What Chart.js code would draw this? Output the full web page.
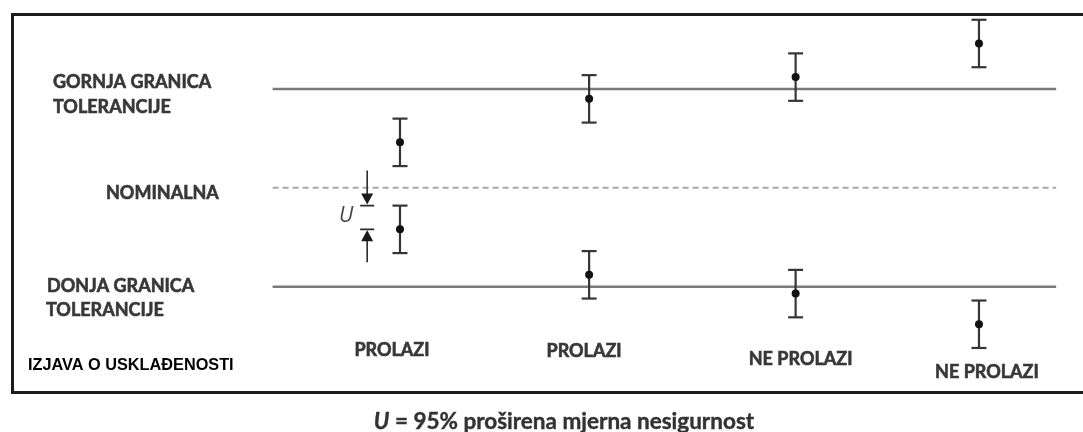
<!DOCTYPE html>
<html>
<head>
<meta charset="utf-8">
<script src="https://cdn.jsdelivr.net/npm/chart.js@4.4.1/dist/chart.umd.min.js"></script>
<style>
  html, body { margin: 0; padding: 0; background: #fff; overflow: hidden; }
  #wrap { position: relative; width: 1083px; height: 432px; }
  #frame { position: absolute; left: 11px; top: 13px; width: 1100px; height: 381px;
           box-sizing: border-box; border: 3px solid #1c1c1c; }
  #c { position: absolute; left: 0; top: 0; }
</style>
</head>
<body>
<div id="wrap">
  <div id="frame"></div>
  <canvas id="c" width="1083" height="432"></canvas>
</div>
<script>
// ---- data ----
const verdicts = ['PROLAZI', 'PROLAZI', 'NE PROLAZI', 'NE PROLAZI'];
const casePositions = [1, 1.98, 3.05, 4.0];
const upperResults = [4.6, 9.0, 11.2, 14.6];
const lowerResults = [-4.2, -8.8, -10.7, -13.8];
const expandedU = 2.4;
const upperLimit = 10;
const nominalValue = 0;
const lowerLimit = -10;
const limitSpan = [0.34, 4.40];
const arrowPosition = 0.83;
const limitLabels = {
  upper: ['GORNJA GRANICA', 'TOLERANCIJE'],
  nominal: ['NOMINALNA'],
  lower: ['DONJA GRANICA', 'TOLERANCIJE']
};
const statementLabel = 'IZJAVA O USKLAĐENOSTI';
const captionSymbol = 'U';
const captionText = ' = 95% proširena mjerna nesigurnost';

// ---- datasets ----
const datasets = [];
datasets.push({
  label: 'results', type: 'scatter', order: 0,
  data: casePositions.flatMap((x, i) => [{x, y: upperResults[i]}, {x, y: lowerResults[i]}]),
  pointRadius: 4, pointBackgroundColor: '#111', pointBorderColor: '#111', pointBorderWidth: 0
});
function errBar(x, v) {
  return {
    type: 'line', order: 2,
    data: [{x, y: v - expandedU}, {x, y: v + expandedU}],
    borderColor: '#363636', borderWidth: 2.2,
    pointStyle: 'line', pointRadius: 7.5, pointBorderColor: '#363636', pointBorderWidth: 2.2,
    fill: false
  };
}
casePositions.forEach((x, i) => {
  datasets.push(errBar(x, upperResults[i]));
  datasets.push(errBar(x, lowerResults[i]));
});
function hLine(v, color, width, dash) {
  return {
    type: 'line', order: 5,
    data: [{x: limitSpan[0], y: v}, {x: limitSpan[1], y: v}],
    borderColor: color, borderWidth: width, borderDash: dash || [],
    pointRadius: 0, fill: false
  };
}
datasets.push(hLine(upperLimit, '#7a7a7a', 2.5));
datasets.push(hLine(lowerLimit, '#7a7a7a', 2.5));
datasets.push(hLine(nominalValue, '#a8a8a8', 2, [6, 4]));

// ---- text / annotation plugin ----
const labelFont = 'Lato';
function heavyText(ctx, t, x, y) {
  ctx.fillText(t, x, y);
  ctx.strokeText(t, x, y);
}
const textPlugin = {
  id: 'texts',
  afterDatasetsDraw(chart) {
    const ctx = chart.ctx, xs = chart.scales.x, ys = chart.scales.y;
    ctx.save();
    // U arrows
    const ax = xs.getPixelForValue(arrowPosition);
    const yTop = ys.getPixelForValue(lowerResults[0] + expandedU);
    const yMid = ys.getPixelForValue(lowerResults[0]);
    ctx.strokeStyle = '#2a2a2a'; ctx.fillStyle = '#1a1a1a'; ctx.lineWidth = 1.6;
    ctx.beginPath();
    ctx.moveTo(ax, yTop - 35); ctx.lineTo(ax, yTop - 11);
    ctx.moveTo(ax - 7, yTop); ctx.lineTo(ax + 7, yTop);
    ctx.moveTo(ax, yMid + 11); ctx.lineTo(ax, yMid + 33);
    ctx.moveTo(ax - 7, yMid); ctx.lineTo(ax + 7, yMid);
    ctx.stroke();
    ctx.beginPath();
    ctx.moveTo(ax - 6, yTop - 12); ctx.lineTo(ax + 6, yTop - 12); ctx.lineTo(ax, yTop - 1); ctx.closePath();
    ctx.moveTo(ax - 6, yMid + 12); ctx.lineTo(ax + 6, yMid + 12); ctx.lineTo(ax, yMid + 1); ctx.closePath();
    ctx.fill();
    ctx.fillStyle = '#444';
    ctx.font = 'italic 21px "Open Sans"';
    ctx.textAlign = 'center'; ctx.textBaseline = 'middle';
    ctx.fillText('U', ax - 21, (yTop + yMid) / 2 - 1);

    // left labels
    ctx.fillStyle = '#383838';
    ctx.strokeStyle = '#383838';
    ctx.lineWidth = 0.6;
    ctx.textAlign = 'left';
    ctx.font = 'bold 18px ' + labelFont;
    const yU = ys.getPixelForValue(upperLimit), yN = ys.getPixelForValue(nominalValue), yL = ys.getPixelForValue(lowerLimit);
    heavyText(ctx, limitLabels.upper[0], 53, yU - 7);
    heavyText(ctx, limitLabels.upper[1], 53, yU + 18);
    heavyText(ctx, limitLabels.nominal[0], 106, yN + 5);
    heavyText(ctx, limitLabels.lower[0], 47, yL);
    heavyText(ctx, limitLabels.lower[1], 46, yL + 24);

    // verdict labels
    const vOff = [[-8, 350], [-5, 351], [5, 359], [8, 372]];
    ctx.textAlign = 'center';
    verdicts.forEach((t, i) => {
      heavyText(ctx, t, xs.getPixelForValue(casePositions[i]) + vOff[i][0], vOff[i][1]);
    });

    // statement
    ctx.fillStyle = '#000';
    ctx.textAlign = 'left';
    ctx.font = 'bold 16.3px "Liberation Sans"';
    ctx.fillText(statementLabel, 28, 366);

    // caption
    ctx.fillStyle = '#333';
    ctx.strokeStyle = '#333';
    ctx.lineWidth = 0.4;
    ctx.font = 'bold 22.5px ' + labelFont;
    const wRest = ctx.measureText(captionText).width;
    ctx.font = 'italic bold 22.5px ' + labelFont;
    const wU = ctx.measureText(captionSymbol).width;
    const x0 = 564 - (wRest + wU) / 2;
    heavyText(ctx, captionSymbol, x0, 422);
    ctx.font = 'bold 22.5px ' + labelFont;
    heavyText(ctx, captionText, x0 + wU, 422);
    ctx.restore();
  }
};

new Chart(document.getElementById('c'), {
  type: 'scatter',
  data: { datasets },
  options: {
    responsive: false, animation: false,
    layout: { padding: 0, autoPadding: false },
    plugins: { legend: { display: false }, tooltip: { enabled: false } },
    scales: {
      x: { type: 'linear', display: false, min: -1.0725, max: 4.539 },
      y: { type: 'linear', display: false, min: -24.7, max: 19.0 }
    }
  },
  plugins: [textPlugin]
});
</script>
</body>
</html>
